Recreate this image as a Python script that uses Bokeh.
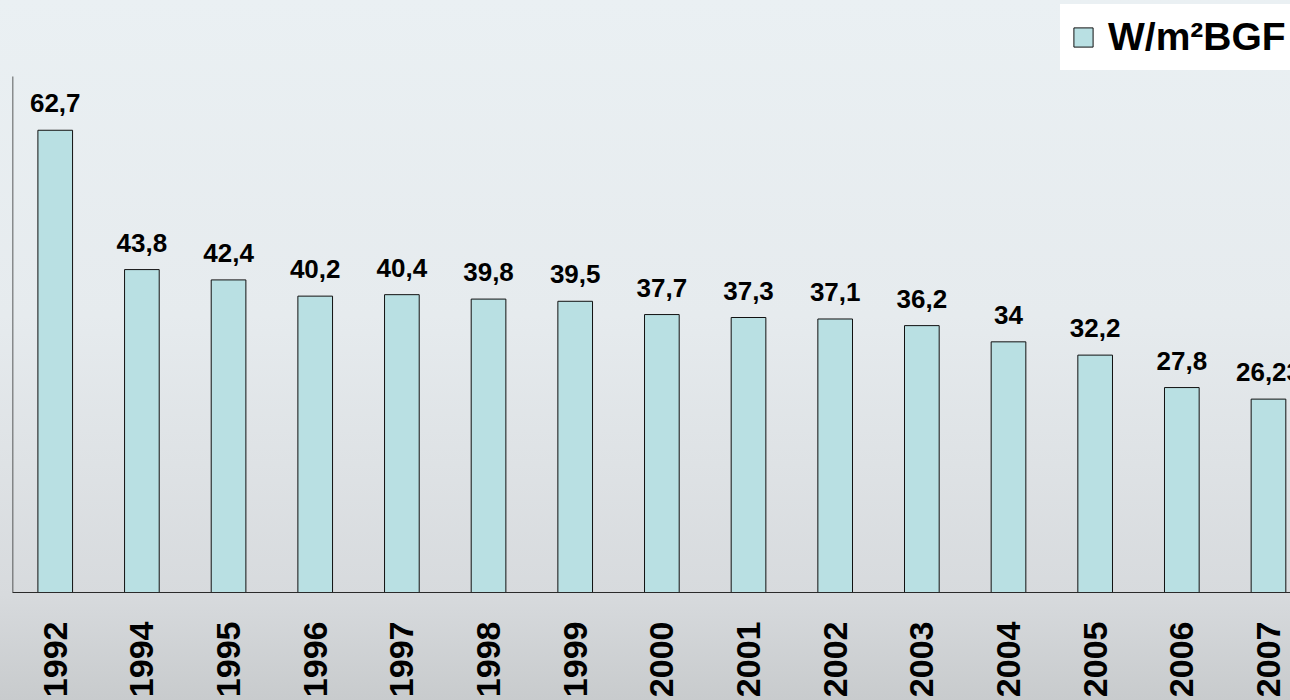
import math
from bokeh.plotting import figure
from bokeh.models import Range1d, FixedTicker, Legend, LegendItem, ColumnDataSource
from bokeh.core.properties import value
from bokeh.embed import file_html
from bokeh.resources import INLINE

years = ["1992", "1994", "1995", "1996", "1997", "1998", "1999", "2000",
         "2001", "2002", "2003", "2004", "2005", "2006", "2007"]
values = [62.7, 43.8, 42.4, 40.2, 40.4, 39.8, 39.5, 37.7, 37.3, 37.1, 36.2, 34.0, 32.2, 27.8, 26.23]
value_labels = ["62,7", "43,8", "42,4", "40,2", "40,4", "39,8", "39,5", "37,7",
                "37,3", "37,1", "36,2", "34", "32,2", "27,8", "26,23"]
series_name = "W/m²BGF"

FONT = "Liberation Sans"
BAR_FILL = "#b9e0e3"
AXIS_MAX = 70          # value axis top (where the axis line ends)
VIEW_MAX = 80.3        # visible top of the plotting area (room for the legend)
X_START, X_END = -0.493, 14.254

idx = list(range(len(years)))
src = ColumnDataSource(dict(x=idx, top=values, lab=value_labels))

p = figure(width=1290, height=700, output_backend="svg", toolbar_location=None,
           x_range=Range1d(X_START, X_END), y_range=Range1d(0, VIEW_MAX),
           min_border_left=12, min_border_right=0, min_border_top=0, min_border_bottom=108)
p.styles = {"background": "linear-gradient(to bottom, #eaf0f3 0%, #e6ebee 45%, #d7dadd 85%, #c8cbcd 100%)"}
p.border_fill_color = None
p.background_fill_color = None
p.outline_line_color = None
p.grid.visible = False

bars = p.vbar(x="x", top="top", bottom=0, width=0.40, source=src,
              fill_color=BAR_FILL, line_color="#111111", line_width=1)

p.text(x="x", y="top", text="lab", source=src, text_align="center",
       text_baseline="alphabetic", y_offset=-27,
       text_font=value(FONT), text_font_style="bold", text_font_size="26px",
       text_color="#000000")

# value-axis line (from 0 up to the axis maximum)
p.segment(x0=[X_START], y0=[0], x1=[X_START], y1=[AXIS_MAX],
          line_color="#2a2a2a", line_width=1.5)

# x axis
xa = p.xaxis[0]
xa.ticker = FixedTicker(ticks=idx)
xa.major_label_overrides = {i: y for i, y in zip(idx, years)}
xa.major_label_orientation = math.pi / 2
xa.major_label_text_font = FONT
xa.major_label_text_font_style = "bold"
xa.major_label_text_font_size = "34px"
xa.major_label_text_color = "#000000"
xa.major_label_standoff = 23
xa.major_tick_line_color = None
xa.minor_tick_line_color = None
xa.axis_line_color = "#2a2a2a"
xa.axis_line_width = 1

p.yaxis.visible = False

legend = Legend(items=[LegendItem(label=series_name, renderers=[bars])],
                location=(1048, 522), orientation="vertical",
                label_text_font=FONT, label_text_font_style="bold",
                label_text_font_size="39px", label_text_color="#000000",
                glyph_width=24, glyph_height=24, label_standoff=13,
                padding=11, spacing=0, margin=0,
                background_fill_color="#ffffff", background_fill_alpha=1.0,
                border_line_alpha=0)
p.add_layout(legend, "center")

open("out.html", "w").write(file_html(p, INLINE))
